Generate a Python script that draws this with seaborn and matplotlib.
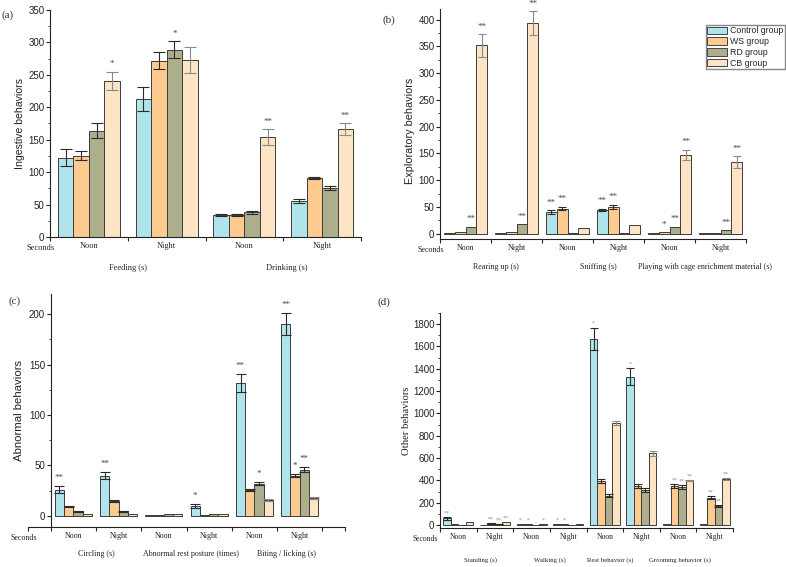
import numpy as np
import pandas as pd
import seaborn as sb
import matplotlib.pyplot as plt
from matplotlib.ticker import MultipleLocator
from matplotlib.patches import Patch

groups = ['Control group', 'WS group', 'RD group', 'CB group']
colors = ['#B0E4EC', '#FDCA8F', '#ADAF8C', '#FDE4C4']

# (a) ingestive: Feeding Noon/Night, Drinking Noon/Night
a_slots = ['Noon', 'Night', 'Noon', 'Night']
a_cats = ['Feeding (s)', 'Drinking (s)']
a_means = [[122, 213, 34, 55],
           [125, 272, 34, 91],
           [164, 289, 38, 75],
           [241, 273, 154, 166]]
a_errs = [[13, 18, 1.5, 3],
          [7, 13, 1, 2],
          [11, 13, 2.5, 3],
          [14, 20, 12, 9]]
a_stars = [['', '', '', ''],
           ['', '', '', ''],
           ['', '*', '', ''],
           ['*', '', '**', '**']]

# (b) exploratory: Rearing up, Sniffing, Playing
b_slots = ['Noon', 'Night'] * 3
b_cats = ['Rearing up (s)', 'Sniffing (s)', 'Playing with cage enrichment material (s)']
b_means = [[1.5, 1.5, 40, 45, 0.5, 0.5],
           [3, 3, 47, 50, 3, 1],
           [13, 18, 2, 2, 13, 6],
           [352, 394, 11, 16, 147, 134]]
b_errs = [[0, 0, 4, 2, 0, 0],
          [0, 0, 3.5, 4, 0, 0],
          [0, 0, 0, 0, 0, 0],
          [21, 22, 0, 0, 10, 11]]
b_stars = [['', '', '**', '**', '', ''],
           ['', '', '**', '**', '*', ''],
           ['**', '**', '', '', '**', '**'],
           ['**', '**', '', '', '**', '**']]

# (c) abnormal: Circling, Abnormal rest posture, Biting / licking
c_slots = ['Noon', 'Night'] * 3
c_cats = ['Circling (s)', 'Abnormal rest posture (times)', 'Biting / licking (s)']
c_means = [[26, 40, 1, 9.5, 132, 190],
           [9.5, 15, 1, 1, 26, 40],
           [4.5, 4.5, 1.5, 1.5, 32, 46],
           [1.5, 2, 1.5, 1.5, 16, 17.5]]
c_errs = [[3.5, 3.8, 0, 2, 9, 11],
          [0.5, 1, 0, 0, 1, 1.5],
          [0.5, 0.5, 0, 0, 1.5, 2.5],
          [0, 0, 0, 0, 1, 1]]
c_stars = [['**', '**', '', '*', '**', '**'],
           ['', '', '', '', '', '*'],
           ['', '', '', '', '*', '**'],
           ['', '', '', '', '', '']]

# (d) other: Standing, Walking, Rest behavior, Grooming behavior
d_slots = ['Noon', 'Night'] * 4
d_cats = ['Standing (s)', 'Walking (s)', 'Rest behavior (s)', 'Grooming behavior (s)']
d_means = [[60, 3, 9, 9, 1670, 1330, 6, 6],
           [10, 15, 9, 9, 392, 348, 348, 246],
           [1, 10, 1, 1, 264, 315, 339, 171],
           [24, 24, 9, 6, 915, 642, 399, 414]]
d_errs = [[15, 0, 0, 0, 100, 75, 0, 0],
          [0, 3, 0, 0, 20, 15, 15, 15],
          [0, 2, 0, 0, 10, 15, 15, 8],
          [0, 0, 0, 0, 15, 20, 8, 8]]
d_stars = [['**', '', '*', '*', '*', '*', '', ''],
           ['', '**', '*', '*', '', '', '**', '**'],
           ['', '**', '', '', '', '', '**', '**'],
           ['', '**', '*', '', '', '', '**', '**']]

sb.set_style('ticks')
SERIF = ['Liberation Serif', 'DejaVu Serif']
SANS = ['Liberation Sans', 'DejaVu Sans']
plt.rcParams['font.family'] = SANS
plt.rcParams['axes.linewidth'] = 0.8
plt.rcParams['axes.edgecolor'] = '#222222'

W, H = 786, 567
fig = plt.figure(figsize=(W / 100, H / 100), dpi=100)


def px_axes(left, top, right, bottom):
    return fig.add_axes([left / W, 1 - bottom / H, (right - left) / W, (bottom - top) / H])


def draw_panel(ax, slots, cats, means, errs, stars, width, capsize, star_fs,
               star_pad, star_color, tick_fs, cat_fs, cat_off, cat_shift, sec_x):
    rows = []
    for g, vals in zip(groups, means):
        for i, v in enumerate(vals):
            rows.append({'slot': i, 'group': g, 'value': v})
    df = pd.DataFrame(rows)
    sb.barplot(data=df, x='slot', y='value', hue='group', hue_order=groups,
               palette=colors, saturation=1, width=width, errorbar=None,
               edgecolor='#3c3c3c', linewidth=0.7, legend=False, ax=ax, zorder=2)
    bar_sets = list(ax.containers)[:len(groups)]
    for k, cont in enumerate(bar_sets):
        ecol = '#8a8a8a' if k == 3 else '#2a2a2a'
        for i, bar in enumerate(cont.patches):
            xc = bar.get_x() + bar.get_width() / 2
            h = bar.get_height()
            e = errs[k][i]
            if e > 0:
                ax.errorbar(xc, h, yerr=e, fmt='none', ecolor=ecol, elinewidth=0.8,
                            capsize=capsize, capthick=0.8, zorder=3)
            if stars[k][i]:
                ax.annotate(stars[k][i], (xc, h + e), xytext=(0, star_pad),
                            textcoords='offset points', ha='center', va='bottom',
                            fontsize=star_fs, color=star_color, family=SERIF)
    n = len(slots)
    ax.set_xticks(range(n))
    ax.set_xticklabels(slots, family=SERIF, fontsize=tick_fs)
    ax.set_xticks(np.arange(-0.5, n, 1.0), minor=True)
    ax.tick_params(axis='x', which='major', length=0, pad=3.5, colors='#222222')
    ax.tick_params(axis='x', which='minor', length=3, width=0.8, direction='out')
    ax.tick_params(axis='y', which='major', length=3, width=0.8, pad=1,
                   direction='out', labelsize=7, colors='#222222')
    ax.tick_params(axis='y', which='minor', length=1.6, width=0.6, direction='out')
    ax.set_xlabel('')
    for j, cat in enumerate(cats):
        ax.annotate(cat, xy=(2 * j + 0.5 + cat_shift[j], 0),
                    xycoords=('data', 'axes fraction'), xytext=(0, -cat_off),
                    textcoords='offset points', ha='center', va='center',
                    family=SERIF, fontsize=cat_fs, color='#222222', annotation_clip=False)
    ax.annotate('Seconds', xy=(sec_x, 0), xycoords=('data', 'axes fraction'),
                xytext=(0, -8), textcoords='offset points', ha='center', va='center',
                family=SERIF, fontsize=tick_fs, color='#222222', annotation_clip=False)
    sb.despine(ax=ax)


# (a)
ax_a = px_axes(50, 10, 361, 237)
draw_panel(ax_a, a_slots, a_cats, a_means, a_errs, a_stars, 0.8, 4, 6.5, 2.5,
           '#444444', 6, 6, 22, [0, 0.05], -0.62)
ax_a.set_xlim(-0.5, 3.5)
ax_a.set_ylim(0, 350)
ax_a.yaxis.set_major_locator(MultipleLocator(50))
ax_a.yaxis.set_minor_locator(MultipleLocator(25))
ax_a.set_ylabel('Ingestive behaviors', fontsize=7.6, color='#222222')
ax_a.yaxis.set_label_coords(-0.08, 0.5)

# (b)
ax_b = px_axes(440, 9, 746, 239)
draw_panel(ax_b, b_slots, b_cats, b_means, b_errs, b_stars, 0.84, 3.2, 6.5, 2.5,
           '#444444', 5.8, 5.8, 20, [0.1, 0.1, 0.2], -0.68)
ax_b.set_xlim(-0.5, 5.5)
ax_b.set_ylim(-10, 420)
ax_b.yaxis.set_major_locator(MultipleLocator(50))
ax_b.yaxis.set_minor_locator(MultipleLocator(25))
ax_b.set_ylabel('Exploratory behaviors', fontsize=7.8, color='#222222')
ax_b.yaxis.set_label_coords(-0.082, 0.47)
handles = [Patch(facecolor=c, edgecolor='#444444', linewidth=0.7, label=g)
           for g, c in zip(groups, colors)]
fig.legend(handles=handles, loc='upper left', bbox_to_anchor=(706 / W, 1 - 25 / H),
           fontsize=6.3, handlelength=2.3, handleheight=0.95, labelspacing=0.2,
           borderpad=0.15, handletextpad=0.3, borderaxespad=0, fancybox=False,
           framealpha=1, edgecolor='#888888')

# (c)
ax_c = px_axes(28, 294, 345, 527)
draw_panel(ax_c, c_slots, c_cats, c_means, c_errs, c_stars, 0.82, 3.5, 6.5, 3,
           '#444444', 5.8, 5.8, 19.5, [0, 0.1, 0.2], -1.1)
ax_c.set_xlim(-1, 6)
ax_c.set_xticks(list(np.arange(-0.5, 6, 1.0)) + [-1, 6], minor=True)
ax_c.spines['left'].set_position(('data', -0.5))
ax_c.set_ylim(-11, 220)
ax_c.yaxis.set_major_locator(MultipleLocator(50))
ax_c.yaxis.set_minor_locator(MultipleLocator(25))
ax_c.set_ylabel('Abnormal behaviors', fontsize=8.2, color='#222222')
ax_c.yaxis.set_label_coords(-0.013, 0.5)

# (d)
ax_d = px_axes(440, 313, 733, 528)
draw_panel(ax_d, d_slots, d_cats, d_means, d_errs, d_stars, 0.82, 3, 4.2, 1,
           '#8a8a8a', 5.5, 4.9, 23, [0.1, 0, -0.35, -0.45], -0.9)
ax_d.set_xlim(-0.5, 7.5)
ax_d.set_ylim(-27, 1900)
ax_d.yaxis.set_major_locator(MultipleLocator(200))
ax_d.yaxis.set_minor_locator(MultipleLocator(100))
ax_d.set_ylabel('Other behaviors', fontsize=7.7, family=SERIF, color='#222222')
ax_d.yaxis.set_label_coords(-0.099, 0.5)

# panel letters
for lab, x, y in [('(a)', 8, 15), ('(b)', 389, 20), ('(c)', 15, 301), ('(d)', 384, 302)]:
    fig.text(x / W, 1 - y / H, lab, ha='center', va='center', family=SERIF,
             fontsize=8, color='#333333')

fig.savefig('out.png', dpi=100)
